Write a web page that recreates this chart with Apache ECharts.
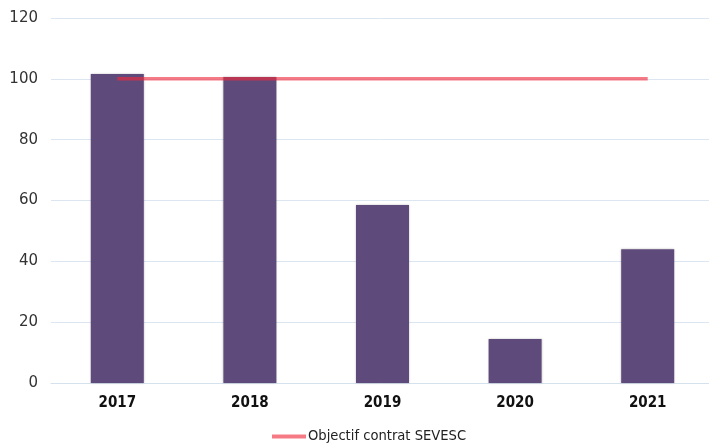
<!DOCTYPE html>
<html><head><meta charset="utf-8">
<script src="https://cdn.jsdelivr.net/npm/echarts@6/dist/echarts.min.js"></script>
<style>html,body{margin:0;padding:0;background:#fff}#c{width:709px;height:443px}</style>
</head><body><div id="c"></div>
<script>
const categories = ['2017','2018','2019','2020','2021'];
const barValues = [101.6, 100.6, 58.5, 14.5, 44];
const objectifValues = [100, 100, 100, 100, 100];
const yTicks = {min: 0, max: 120, interval: 20};

const chart = echarts.init(document.getElementById('c'), null, {renderer: 'canvas'});
chart.setOption({
  animation: false,
  backgroundColor: '#fff',
  grid: {left: 51, width: 663, top: 18, height: 365, outerBoundsMode: 'none', containLabel: false},
  legend: {
    top: 429, left: 272, padding: 0,
    itemWidth: 34, itemHeight: 4, itemGap: 10,
    data: [{name: 'Objectif contrat SEVESC', icon: 'rect'}],
    textStyle: {fontFamily: 'DejaVu Sans Condensed', fontSize: 14.6, color: '#222', padding: [0,0,0,-3]}
  },
  xAxis: {
    type: 'category', data: categories,
    axisLine: {lineStyle: {color: '#d6e1ee', width: 1}},
    axisTick: {show: false},
    axisLabel: {fontFamily: 'DejaVu Sans Condensed', fontWeight: 'bold', fontSize: 15, color: '#111', margin: 13}
  },
  yAxis: {
    type: 'value', min: yTicks.min, max: yTicks.max, interval: yTicks.interval,
    axisLine: {show: false}, axisTick: {show: false},
    splitLine: {lineStyle: {color: '#dce6f1', width: 1}},
    axisLabel: {fontFamily: 'DejaVu Sans', fontSize: 15, color: '#333', margin: 13}
  },
  series: [
    {
      type: 'bar', name: 'Valeur', data: barValues, barWidth: 53,
      itemStyle: {color: '#5f4b7b', shadowColor: 'rgba(0,0,0,0.25)', shadowBlur: 2},
      z: 2
    },
    {
      type: 'line', name: 'Objectif contrat SEVESC', data: objectifValues,
      showSymbol: false, symbol: 'none',
      color: 'rgba(240,40,60,0.62)',
      lineStyle: {width: 3.5, color: 'rgba(240,40,60,0.62)'},
      itemStyle: {color: 'rgba(240,40,60,0.62)'},
      z: 3
    }
  ]
});
</script></body></html>
